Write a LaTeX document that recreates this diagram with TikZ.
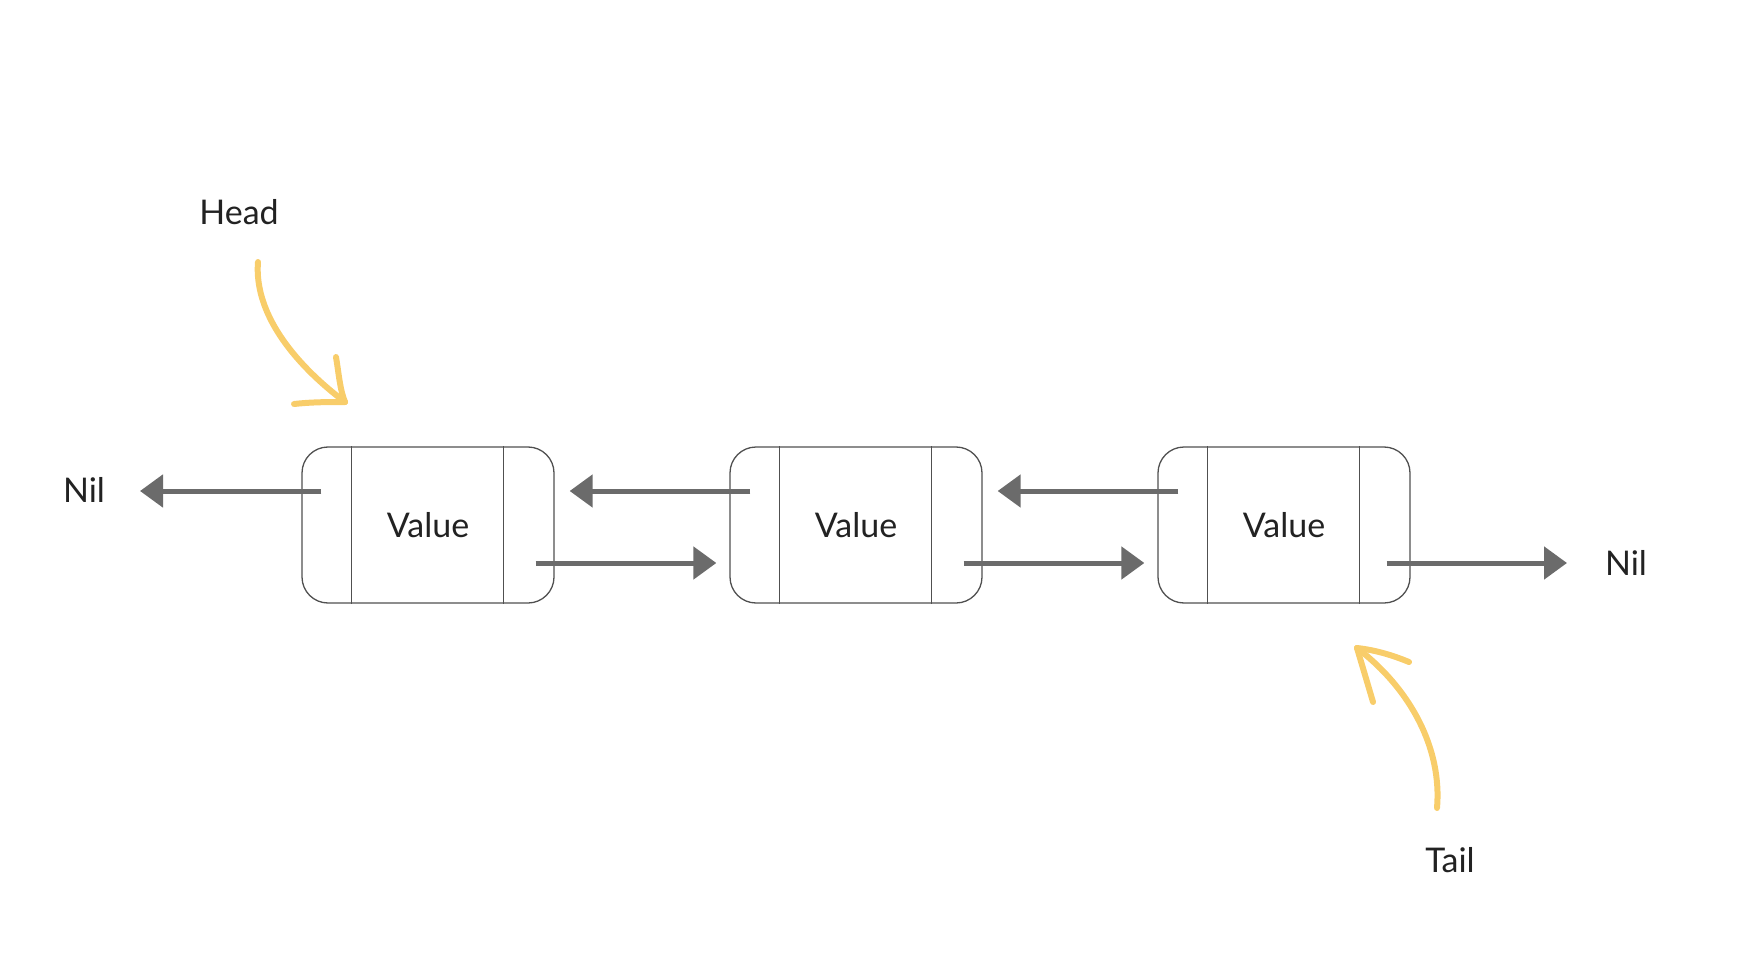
\documentclass[tikz,border=0pt]{standalone}
\usepackage{fontspec}
\setmainfont{Lato}
\usetikzlibrary{arrows.meta,calc}
\definecolor{linkgray}{HTML}{6B6B6B}
\definecolor{boxgray}{HTML}{505050}
\definecolor{hl}{HTML}{F8CD6A}
\definecolor{txt}{HTML}{222222}
\tikzset{
  cell/.style={draw=boxgray, line width=1.3pt, rounded corners=26pt, minimum width=252pt, minimum height=156pt, inner sep=0pt, text=txt, font=\fontsize{34}{40}\selectfont},
  lbl/.style={text=txt, font=\fontsize{34}{40}\selectfont, inner sep=0pt},
  link/.style={draw=linkgray, line width=5pt, -{Triangle[length=23pt,width=32pt]}},
  divider/.style={draw=boxgray, line width=1.1pt},
  hand/.style={draw=hl, line width=6pt, line cap=round, line join=round}
}
\begin{document}
\begin{tikzpicture}[x=1pt,y=-1pt]
\useasboundingbox (0,0) rectangle (1750,957);
% boxes
\node[cell] (b1) at (428,525) {Value};
\node[cell] (b2) at (856,525) {Value};
\node[cell] (b3) at (1284,525) {Value};
\foreach \b in {b1,b2,b3}{
  \draw[divider] ($(\b.north west)+(50,0)$) -- ($(\b.south west)+(50,0)$);
  \draw[divider] ($(\b.north east)+(-51,0)$) -- ($(\b.south east)+(-51,0)$);
}
% labels
\node[lbl] (nilL) at (84,490) {Nil};
\node[lbl] (nilR) at (1626,563) {Nil};
\node[lbl] (head) at (239,212) {Head};
\node[lbl] (tail) at (1450,860) {Tail};
% arrow end points
\coordinate (nilLtip) at (140,491);
\coordinate (nilRtip) at (1567,563);
% back links (upper)
\draw[link] ($(b1.west)+(20,-34)$) -- (nilLtip);
\draw[link] ($(b2.west)+(21,-34)$) -- ($(b1.east)+(15,-34)$);
\draw[link] ($(b3.west)+(21,-34)$) -- ($(b2.east)+(15,-34)$);
% forward links (lower)
\draw[link] ($(b1.east)+(-19,38)$) -- ($(b2.west)+(-13,38)$);
\draw[link] ($(b2.east)+(-19,38)$) -- ($(b3.west)+(-13,38)$);
\draw[link] ($(b3.east)+(-24,38)$) -- (nilRtip);
% head pointer
\coordinate (htip) at (345,402);
\coordinate (hstart) at (258,262);
\draw[hand] (hstart) .. controls (254,312) and (292,362) .. (htip);
\draw[hand] (336,357) .. controls (339,375) and (340,390) .. (htip);
\draw[hand] (294,404) .. controls (312,402) and (330,402) .. (htip);
% tail pointer
\coordinate (ttip) at (1357,648);
\coordinate (tstart) at (1437,808);
\draw[hand] (tstart) .. controls (1442,750) and (1412,690) .. (ttip);
\draw[hand] (1409,662) .. controls (1392,655) and (1375,650) .. (ttip);
\draw[hand] (1373,702) .. controls (1368,685) and (1362,665) .. (ttip);
\end{tikzpicture}
\end{document}
